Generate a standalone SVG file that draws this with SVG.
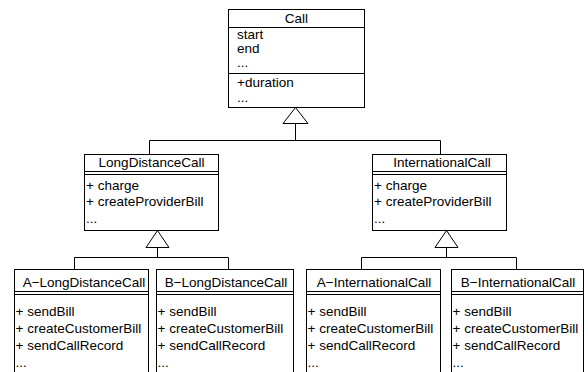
<svg xmlns="http://www.w3.org/2000/svg" width="588" height="372" viewBox="0 0 588 372">
  <style>
    .box { fill: #fff; stroke: #000; stroke-width: 1; }
    .sep { stroke: #000; stroke-width: 1; fill: none; }
    .edge { stroke: #000; stroke-width: 1; fill: none; }
    .head { fill: #fff; stroke: #000; stroke-width: 1; }
    text { font-family: "Liberation Sans", Arial, Helvetica, sans-serif; font-size: 13.5px; fill: #000; }
    .title { text-anchor: middle; font-size: 13.5px; }
  </style>

  <!-- generalization connectors -->
  <g id="connectors">
    <!-- Call <- LongDistanceCall / InternationalCall -->
    <polyline class="edge" points="149.5,154.5 149.5,140.5 440.5,140.5 440.5,154.5"/>
    <line class="edge" x1="295.5" y1="123.5" x2="295.5" y2="140.5"/>
    <polygon class="head" points="295.5,107.5 283,123.5 308,123.5"/>

    <!-- LongDistanceCall <- A / B -->
    <polyline class="edge" points="74.5,269.5 74.5,257.5 228.5,257.5 228.5,269.5"/>
    <line class="edge" x1="157.5" y1="247.5" x2="157.5" y2="257.5"/>
    <polygon class="head" points="157.5,230.5 146,247.5 169,247.5"/>

    <!-- InternationalCall <- A / B -->
    <polyline class="edge" points="361.5,269.5 361.5,257.5 516.5,257.5 516.5,269.5"/>
    <line class="edge" x1="446.5" y1="247.5" x2="446.5" y2="257.5"/>
    <polygon class="head" points="446.5,230.5 435,247.5 458,247.5"/>
  </g>

  <!-- base class -->
  <g id="call">
    <rect class="box" x="228.5" y="9.5" width="136" height="98"/>
    <line class="sep" x1="228.5" y1="27.5" x2="364.5" y2="27.5"/>
    <line class="sep" x1="228.5" y1="73.5" x2="364.5" y2="73.5"/>
    <text class="title" x="296.5" y="23">Call</text>
    <text x="237" y="39">start</text>
    <text x="237" y="53">end</text>
    <text x="237" y="67">...</text>
    <text x="237" y="87">+duration</text>
    <text x="237" y="102">...</text>
  </g>

  <g id="long-distance-call">
    <rect class="box" x="84.5" y="154.5" width="134" height="76"/>
    <line class="sep" x1="84.5" y1="171.5" x2="218.5" y2="171.5"/>
    <line class="sep" x1="84.5" y1="174.5" x2="218.5" y2="174.5"/>
    <text class="title" x="151.5" y="167">LongDistanceCall</text>
    <text x="86" y="190">+ charge</text>
    <text x="86" y="206">+ createProviderBill</text>
    <text x="86" y="223">...</text>
  </g>

  <g id="international-call">
    <rect class="box" x="372.5" y="154.5" width="134" height="76"/>
    <line class="sep" x1="372.5" y1="171.5" x2="506.5" y2="171.5"/>
    <line class="sep" x1="372.5" y1="174.5" x2="506.5" y2="174.5"/>
    <text class="title" x="442" y="167">InternationalCall</text>
    <text x="374" y="190">+ charge</text>
    <text x="374" y="206">+ createProviderBill</text>
    <text x="374" y="223">...</text>
  </g>

  <g id="a-long-distance-call">
    <rect class="box" x="14.5" y="269.5" width="134" height="110"/>
    <line class="sep" x1="14.5" y1="291.5" x2="148.5" y2="291.5"/>
    <line class="sep" x1="14.5" y1="294.5" x2="148.5" y2="294.5"/>
    <text class="title" x="84" y="287">A−LongDistanceCall</text>
    <text x="15.5" y="316">+ sendBill</text>
    <text x="15.5" y="333">+ createCustomerBill</text>
    <text x="15.5" y="350">+ sendCallRecord</text>
    <text x="15.5" y="367">...</text>
  </g>

  <g id="b-long-distance-call">
    <rect class="box" x="156.5" y="269.5" width="137" height="110"/>
    <line class="sep" x1="156.5" y1="291.5" x2="293.5" y2="291.5"/>
    <line class="sep" x1="156.5" y1="294.5" x2="293.5" y2="294.5"/>
    <text class="title" x="226" y="287">B−LongDistanceCall</text>
    <text x="157.5" y="316">+ sendBill</text>
    <text x="157.5" y="333">+ createCustomerBill</text>
    <text x="157.5" y="350">+ sendCallRecord</text>
    <text x="157.5" y="367">...</text>
  </g>

  <g id="a-international-call">
    <rect class="box" x="306.5" y="269.5" width="134" height="110"/>
    <line class="sep" x1="306.5" y1="291.5" x2="440.5" y2="291.5"/>
    <line class="sep" x1="306.5" y1="294.5" x2="440.5" y2="294.5"/>
    <text class="title" x="374" y="287">A−InternationalCall</text>
    <text x="307.5" y="316">+ sendBill</text>
    <text x="307.5" y="333">+ createCustomerBill</text>
    <text x="307.5" y="350">+ sendCallRecord</text>
    <text x="307.5" y="367">...</text>
  </g>

  <g id="b-international-call">
    <rect class="box" x="451.5" y="269.5" width="132" height="110"/>
    <line class="sep" x1="451.5" y1="291.5" x2="583.5" y2="291.5"/>
    <line class="sep" x1="451.5" y1="294.5" x2="583.5" y2="294.5"/>
    <text class="title" x="518" y="287">B−InternationalCall</text>
    <text x="452.5" y="316">+ sendBill</text>
    <text x="452.5" y="333">+ createCustomerBill</text>
    <text x="452.5" y="350">+ sendCallRecord</text>
    <text x="452.5" y="367">...</text>
  </g>
</svg>
